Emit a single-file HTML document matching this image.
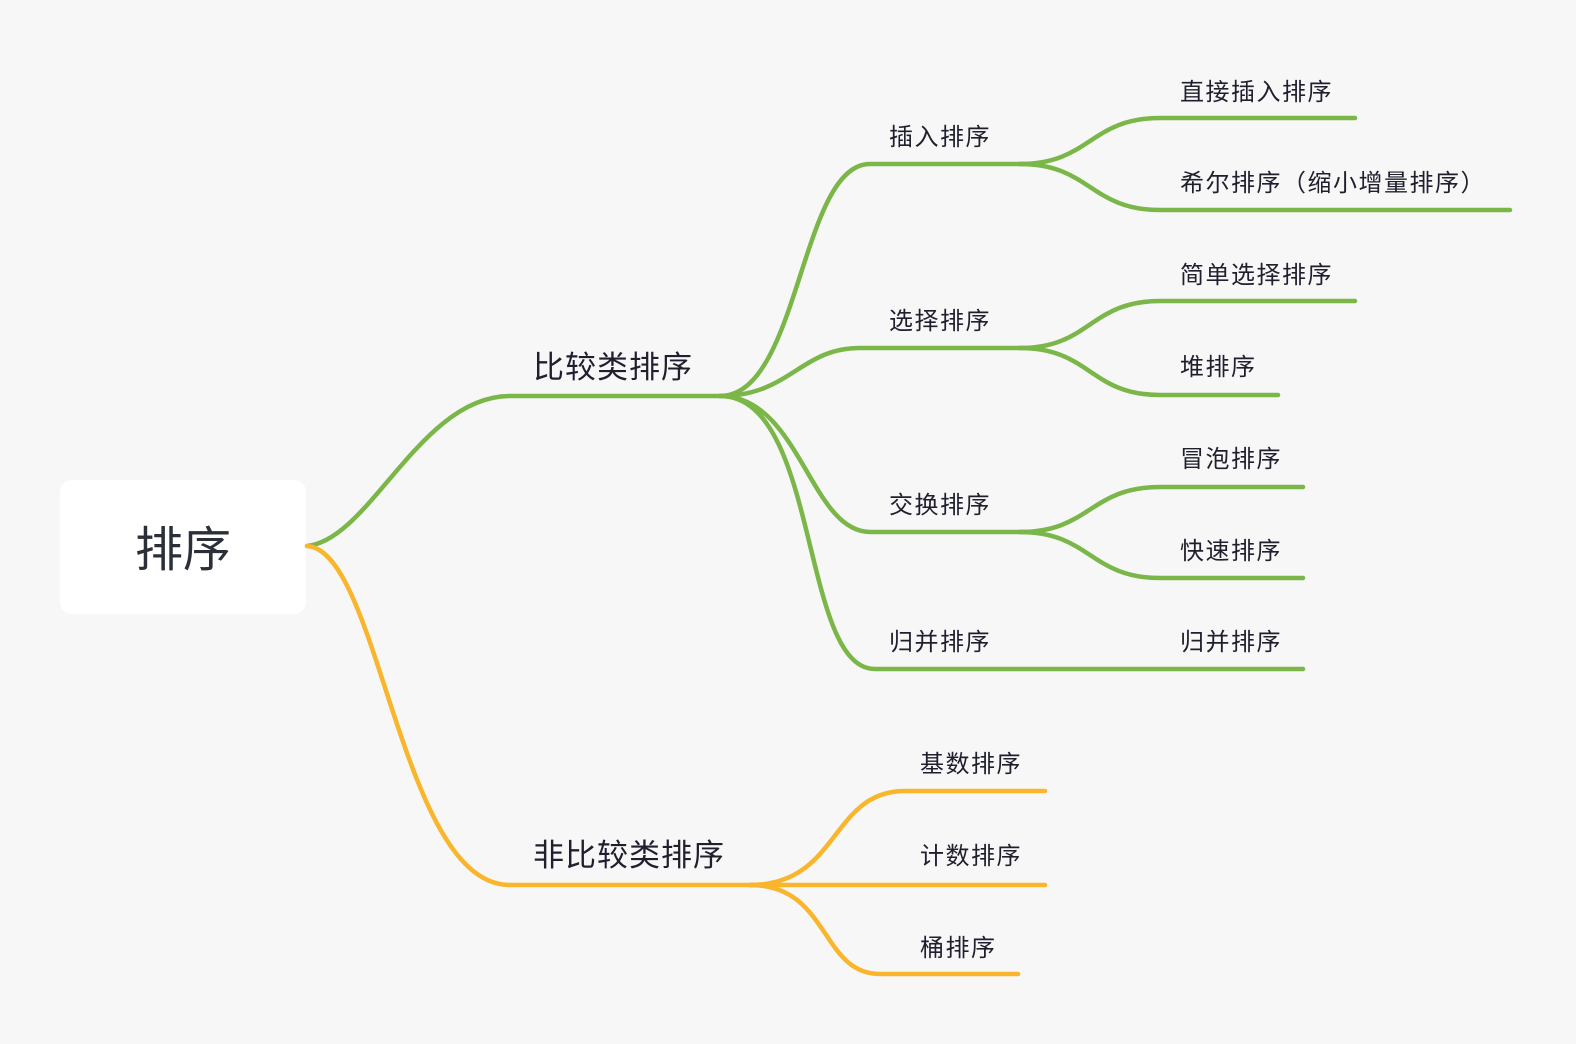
<!DOCTYPE html>
<html><head><meta charset="utf-8"><style>
html,body{margin:0;padding:0;background:#f7f7f7;}
svg{display:block}
text{font-family:"Liberation Sans","Noto Sans CJK SC",sans-serif;fill:#1f1f2e;}
.l3{font-size:24px;letter-spacing:1.5px}
</style></head><body>
<svg width="1576" height="1044" viewBox="0 0 1576 1044">
<rect x="60" y="480" width="246" height="134" rx="12" fill="#fff"/>
<text x="183" y="566" font-size="48" text-anchor="middle" style="fill:#2b2f38">排序</text>
<g fill="none" stroke="#7ab648" stroke-width="4.5" stroke-linecap="round">
<path d="M307,546 C370,540 420,396 510,396 L722,396"/>
<path d="M720,396 C800,396 800,164 870,164 L1040,164"/>
<path d="M720,396 C790,396 800,348 860,348 L1040,348"/>
<path d="M720,396 C800,396 810,532 870,532 L1040,532"/>
<path d="M720,396 C820,396 800,669 875,669 L1303,669"/>
<path d="M1020,164 C1090,164 1090,118 1160,118 L1355,118"/>
<path d="M1020,164 C1090,164 1090,210 1160,210 L1510,210"/>
<path d="M1020,348 C1090,348 1090,301 1160,301 L1355,301"/>
<path d="M1020,348 C1090,348 1090,395 1160,395 L1278,395"/>
<path d="M1020,532 C1090,532 1090,487 1160,487 L1303,487"/>
<path d="M1020,532 C1090,532 1090,578 1160,578 L1303,578"/>
</g>
<g fill="none" stroke="#f9b52b" stroke-width="4.5" stroke-linecap="round">
<path d="M307,546 C380,550 400,885 510,885 L752,885"/>
<path d="M750,885 C840,885 830,791 905,791 L1045,791"/>
<path d="M750,885 L1045,885"/>
<path d="M750,885 C830,885 820,974 880,974 L1018,974"/>
</g>
<text x="533" y="378" font-size="31" letter-spacing="1">比较类排序</text>
<text x="533" y="866" font-size="31" letter-spacing="1">非比较类排序</text>
<text class="l3" x="889" y="145">插入排序</text>
<text class="l3" x="889" y="329">选择排序</text>
<text class="l3" x="889" y="513">交换排序</text>
<text class="l3" x="889" y="650">归并排序</text>
<text class="l3" x="1180" y="100">直接插入排序</text>
<text class="l3" x="1180" y="191">希尔排序（缩小增量排序）</text>
<text class="l3" x="1180" y="283">简单选择排序</text>
<text class="l3" x="1180" y="375">堆排序</text>
<text class="l3" x="1180" y="467">冒泡排序</text>
<text class="l3" x="1180" y="559">快速排序</text>
<text class="l3" x="1180" y="650">归并排序</text>
<text class="l3" x="920" y="772">基数排序</text>
<text class="l3" x="920" y="864">计数排序</text>
<text class="l3" x="920" y="956">桶排序</text>
</svg>
</body></html>
